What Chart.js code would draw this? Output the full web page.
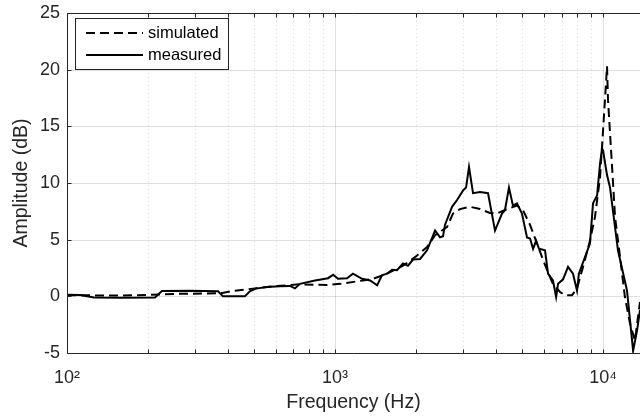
<!DOCTYPE html>
<html>
<head>
<meta charset="utf-8">
<script src="https://cdn.jsdelivr.net/npm/chart.js@4/dist/chart.umd.min.js"></script>
<style>
html,body{margin:0;padding:0;background:#fff;}
#wrap{width:640px;height:419px;}
</style>
</head>
<body>
<div id="wrap"><canvas id="c" width="640" height="419"></canvas></div>
<script>
// ---- data ----
const simulatedFreq = [100, 130, 160, 200, 260, 330, 380, 406, 494, 587, 740, 933, 1045, 1271, 1387, 1563, 1794, 2024, 2205, 2362, 2617, 2754, 2925, 3190, 3477, 3787, 4020, 4385, 4775, 5027, 5343, 5675, 5976, 6343, 6506, 6914, 7216, 7658, 7998, 8421, 8937, 9333, 9747, 10000, 10260, 10350, 10440, 10810, 11090, 11570, 12070, 12610, 13150, 13510, 13740];
const simulatedAmp  = [0.1, 0.08, 0.08, 0.12, 0.22, 0.25, 0.3, 0.44, 0.68, 0.88, 1.06, 1.0, 1.1, 1.4, 1.55, 2.0, 2.7, 3.6, 4.35, 5.4, 6.1, 7.3, 7.7, 7.9, 7.7, 7.35, 7.3, 7.7, 8.0, 7.6, 6.3, 4.65, 3.2, 1.7, 1.1, 0.38, 0.09, 0.1, 0.68, 2.6, 4.9, 7.0, 10.5, 14.6, 18.8, 20.3, 17.3, 11.4, 7.0, 3.5, -0.06, -2.4, -3.9, -1.8, -0.5];

const measuredFreq = [100, 112, 126, 158, 213, 226, 288, 366, 382, 461, 481, 507, 557, 624, 679, 709, 740, 842, 942, 984, 1026, 1109, 1167, 1262, 1352, 1436, 1497, 1563, 1633, 1703, 1794, 1872, 1955, 2076, 2205, 2362, 2466, 2530, 2572, 2733, 2853, 3006, 3083, 3162, 3273, 3477, 3724, 3954, 4198, 4306, 4457, 4613, 4775, 4984, 5204, 5343, 5483, 5625, 5772, 6076, 6235, 6506, 6683, 6796, 7095, 7403, 7727, 7998, 8128, 8937, 9178, 9503, 9747, 9910, 10000, 10350, 10620, 11370, 12290, 12950, 13400, 13740];
const measuredAmp  = [0.15, 0.12, -0.1, -0.12, -0.1, 0.47, 0.5, 0.45, 0.0, 0.0, 0.45, 0.68, 0.82, 0.9, 0.92, 0.7, 1.1, 1.4, 1.6, 1.9, 1.55, 1.6, 2.0, 1.55, 1.4, 0.97, 1.85, 2.0, 2.35, 2.3, 2.9, 2.7, 3.25, 3.3, 4.06, 5.8, 5.2, 5.3, 6.3, 7.9, 8.5, 9.35, 9.6, 11.4, 9.1, 9.2, 9.1, 5.8, 7.3, 7.6, 9.6, 8.0, 8.2, 7.3, 5.2, 5.1, 4.2, 4.9, 4.2, 4.06, 2.0, 1.4, -0.06, 1.1, 1.5, 2.6, 2.0, 0.5, 2.0, 4.65, 8.2, 8.9, 11.7, 13.0, 12.9, 10.7, 9.6, 4.06, 0.5, -4.8, -3.0, -1.2];

const seriesLabels = ['simulated', 'measured'];
const xTickValues = [100, 1000, 10000];
const xTickLabels = ['10\u00B2', '10\u00B3', '10\u2074'];
const yTickValues = [-5, 0, 5, 10, 15, 20, 25];
const xAxisTitle = 'Frequency (Hz)';
const yAxisTitle = 'Amplitude (dB)';
const xMin = 100, xMax = 13740, yMin = -5, yMax = 25;

// ---- build ----
const zip = (xs, ys) => xs.map((x, i) => ({x: x, y: ys[i]}));
const FONT = "'Liberation Sans', Arial, sans-serif";
const TXT = '#262626';
const GRID = 'rgba(38,38,38,0.15)';

const gridPlugin = {
  id: 'matlabGrid',
  beforeDatasetsDraw(chart) {
    const {ctx, chartArea: a, scales: {x, y}} = chart;
    ctx.save();
    ctx.lineWidth = 1;
    ctx.strokeStyle = GRID;
    yTickValues.forEach(v => {
      const py = Math.round(y.getPixelForValue(v)) + 0.5;
      ctx.beginPath(); ctx.moveTo(a.left, py); ctx.lineTo(a.right, py); ctx.stroke();
    });
    for (let e = 2; e <= 4; e++) {
      for (let m = 1; m <= 9; m++) {
        const v = m * Math.pow(10, e);
        if (v < xMin || v > xMax) continue;
        const px = Math.round(x.getPixelForValue(v)) + 0.5;
        ctx.setLineDash(m === 1 ? [] : [1, 3]);
        ctx.strokeStyle = m === 1 ? GRID : 'rgba(38,38,38,0.14)';
        ctx.beginPath(); ctx.moveTo(px, a.top); ctx.lineTo(px, a.bottom); ctx.stroke();
      }
    }
    ctx.restore();
  },
  afterDatasetsDraw(chart) {
    const {ctx, chartArea: a, scales: {x, y}} = chart;
    ctx.save();
    ctx.strokeStyle = TXT;
    ctx.lineWidth = 1;
    ctx.setLineDash([]);
    const L = Math.round(a.left) + 0.5, T = Math.round(a.top) + 0.5, B = Math.round(a.bottom) + 0.5;
    ctx.beginPath();
    ctx.moveTo(a.right, T); ctx.lineTo(L, T); ctx.lineTo(L, B); ctx.lineTo(a.right, B);
    ctx.stroke();
    const tl = 4;
    for (let e = 2; e <= 4; e++) {
      for (let m = 1; m <= 9; m++) {
        const v = m * Math.pow(10, e);
        if (v < xMin || v > xMax) continue;
        const px = Math.round(x.getPixelForValue(v)) + 0.5;
        ctx.beginPath();
        ctx.moveTo(px, B); ctx.lineTo(px, B - tl);
        ctx.moveTo(px, T); ctx.lineTo(px, T + tl);
        ctx.stroke();
      }
    }
    yTickValues.forEach(v => {
      const py = Math.round(y.getPixelForValue(v)) + 0.5;
      ctx.beginPath(); ctx.moveTo(L, py); ctx.lineTo(L + tl, py); ctx.stroke();
    });
    // legend box
    const bx = 75.5, by = 18.5, bw = 153, bh = 51;
    ctx.fillStyle = '#fff';
    ctx.fillRect(bx, by, bw, bh);
    ctx.strokeStyle = TXT;
    ctx.strokeRect(bx, by, bw, bh);
    const rows = [33, 55];
    chart.data.datasets.forEach((ds, i) => {
      ctx.save();
      ctx.strokeStyle = ds.borderColor;
      ctx.lineWidth = ds.borderWidth;
      ctx.setLineDash(ds.borderDash || []);
      ctx.beginPath(); ctx.moveTo(86, rows[i]); ctx.lineTo(143, rows[i]); ctx.stroke();
      ctx.restore();
      ctx.fillStyle = '#000';
      ctx.font = '16.5px ' + FONT;
      ctx.textBaseline = 'middle';
      ctx.textAlign = 'left';
      ctx.fillText(ds.label, 148, rows[i]);
    });
    ctx.restore();
  }
};

new Chart(document.getElementById('c'), {
  type: 'line',
  data: {
    datasets: [
      {label: seriesLabels[0], data: zip(simulatedFreq, simulatedAmp), borderColor: '#000', borderWidth: 2, borderDash: [9, 5], pointRadius: 0, tension: 0, fill: false},
      {label: seriesLabels[1], data: zip(measuredFreq, measuredAmp), borderColor: '#000', borderWidth: 2, pointRadius: 0, tension: 0, fill: false}
    ]
  },
  options: {
    responsive: false,
    animation: false,
    devicePixelRatio: 1,
    layout: {padding: {top: 13, right: 0, left: 0, bottom: 0}},
    plugins: {legend: {display: false}, tooltip: {enabled: false}},
    scales: {
      x: {
        type: 'logarithmic', min: xMin, max: xMax,
        grid: {display: false, drawTicks: false},
        border: {display: false},
        ticks: {
          autoSkip: false, maxRotation: 0, minRotation: 0, padding: 14, color: TXT,
          font: {family: FONT, size: 18},
          callback: (v) => { const i = xTickValues.indexOf(v); return i >= 0 ? xTickLabels[i] : ''; }
        },
        title: {display: true, text: xAxisTitle, color: TXT, font: {family: FONT, size: 19.5}, padding: {top: 0, bottom: 5}},
        afterFit: (s) => { s.height = 66; s.paddingRight = 0; s.paddingLeft = 0; }
      },
      y: {
        min: yMin, max: yMax,
        grid: {display: false, drawTicks: false},
        border: {display: false},
        afterBuildTicks: (s) => { s.ticks = yTickValues.map(v => ({value: v})); },
        ticks: {padding: 7, color: TXT, font: {family: FONT, size: 18}},
        title: {display: true, text: yAxisTitle, color: TXT, font: {family: FONT, size: 19.5}, padding: {top: 10, bottom: 0}},
        afterFit: (s) => { s.width = 67; s.paddingTop = 0; s.paddingBottom = 0; }
      }
    }
  },
  plugins: [gridPlugin]
});
</script>
</body>
</html>
